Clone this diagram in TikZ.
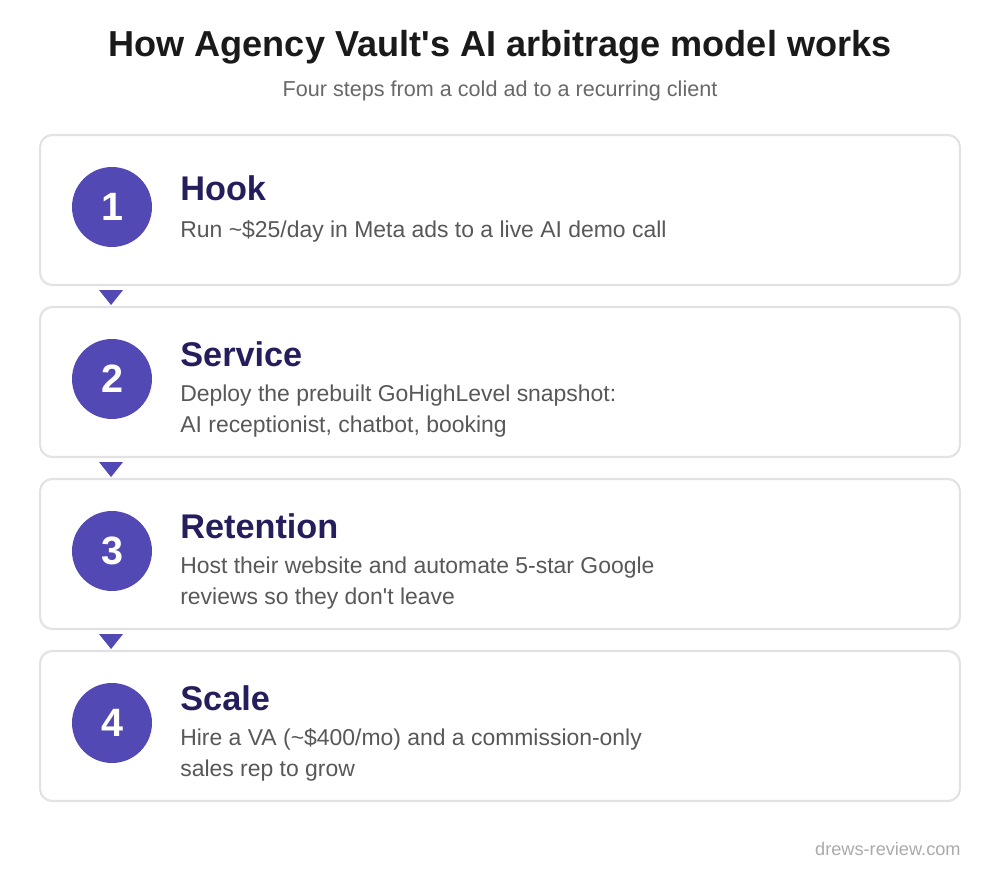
\documentclass[tikz,border=0pt]{standalone}
\usepackage{fontspec}
\setmainfont{Liberation Sans}
\usetikzlibrary{calc}

\definecolor{stepfill}{RGB}{83,73,180}
\definecolor{headnavy}{RGB}{37,30,92}
\definecolor{descgray}{RGB}{88,88,88}
\definecolor{cardline}{RGB}{226,226,226}
\definecolor{subgray}{RGB}{104,104,104}
\definecolor{footgray}{RGB}{170,170,170}
\definecolor{titleblack}{RGB}{26,26,26}

\tikzset{
	card/.style={draw=cardline, line width=1.2pt, fill=white, rounded corners=0.24cm,
		minimum width=18.4cm, minimum height=3cm, inner sep=0pt},
	stepdot/.style={circle, fill=stepfill, minimum size=1.6cm, inner sep=0pt,
		text=white, font=\fontsize{22.5}{26}\selectfont\bfseries},
	stephead/.style={anchor=base west, inner sep=0pt, text=headnavy,
		font=\fontsize{19.5}{22}\selectfont\bfseries},
	stepdesc/.style={anchor=base west, inner sep=0pt, text=descgray, align=left,
		font=\fontsize{13.05}{17.6}\selectfont},
	downtip/.style={fill=stepfill}
}

\begin{document}
\begin{tikzpicture}[x=0.02cm,y=-0.02cm]
	\useasboundingbox (0,0) rectangle (1000,875);
	
	%title
	\node[anchor=base, inner sep=0pt, text=titleblack, font=\fontsize{20.55}{24}\selectfont\bfseries] (title) at (500,57) {How Agency Vault\textquotesingle s AI arbitrage model works};
	\node[anchor=base, inner sep=0pt, text=subgray, font=\fontsize{12.3}{14}\selectfont] (subtitle) at (500,96) {Four steps from a cold ad to a recurring client};
	
	%cards
	\node[card] (card1) at (500,210) {};
	\node[card] (card2) at (500,382) {};
	\node[card] (card3) at (500,554) {};
	\node[card] (card4) at (500,726) {};
	
	%step 1
	\node[stepdot] (dot1) at (112,207) {1};
	\node[stephead] (head1) at (180,200) {Hook};
	\node[stepdesc] (desc1) at (180,237) {Run \textasciitilde\$25/day in Meta ads to a live AI demo call};
	
	%step 2 (base = last line)
	\node[stepdot] (dot2) at (112,379) {2};
	\node[stephead] (head2) at (180,366) {Service};
	\node[stepdesc] (desc2) at (180,432) {Deploy the prebuilt GoHighLevel snapshot:\\AI receptionist, chatbot, booking};
	
	%step 3
	\node[stepdot] (dot3) at (112,551) {3};
	\node[stephead] (head3) at (180,538) {Retention};
	\node[stepdesc] (desc3) at (180,604) {Host their website and automate 5-star Google\\reviews so they don\textquotesingle t leave};
	
	%step 4
	\node[stepdot] (dot4) at (112,723) {4};
	\node[stephead] (head4) at (180,710) {Scale};
	\node[stepdesc] (desc4) at (180,776) {Hire a VA (\textasciitilde\$400/mo) and a commission-only\\sales rep to grow};
	
	%arrow tips between cards
	\fill[downtip] ($(card1.south west)+(60,4)$) -- ++(24,0) -- ++(-12,15) -- cycle;	%1--2
	\fill[downtip] ($(card2.south west)+(60,4)$) -- ++(24,0) -- ++(-12,15) -- cycle;	%2--3
	\fill[downtip] ($(card3.south west)+(60,4)$) -- ++(24,0) -- ++(-12,15) -- cycle;	%3--4
	
	%footer
	\node[anchor=base east, inner sep=0pt, text=footgray, font=\fontsize{10.35}{12}\selectfont] (foot) at (961,855) {drews-review.com};
\end{tikzpicture}
\end{document}
